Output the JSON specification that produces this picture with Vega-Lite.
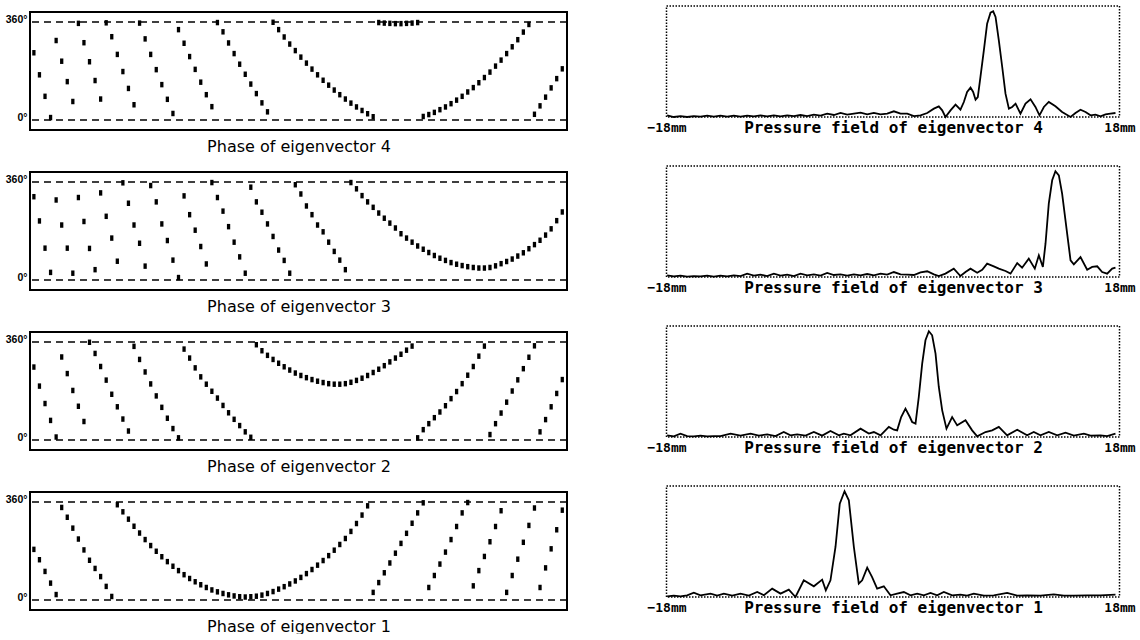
{
"$schema": "https://vega.github.io/schema/vega-lite/v6.json",
"background": "white",
"padding": {"left": 5, "top": 5, "right": 0, "bottom": 0},
"config": {"view": {"stroke": null}, "axis": {"grid": false}},
"datasets": {
"phase": [
{"ev":4,"i":0,"p":247},{"ev":4,"i":1,"p":166},{"ev":4,"i":2,"p":87},{"ev":4,"i":3,"p":9},{"ev":4,"i":4,"p":292},{"ev":4,"i":5,"p":216},{"ev":4,"i":6,"p":141},{"ev":4,"i":7,"p":68},{"ev":4,"i":8,"p":355},{"ev":4,"i":9,"p":284},
{"ev":4,"i":10,"p":214},{"ev":4,"i":11,"p":145},{"ev":4,"i":12,"p":77},{"ev":4,"i":13,"p":357},{"ev":4,"i":14,"p":306},{"ev":4,"i":15,"p":241},{"ev":4,"i":16,"p":178},{"ev":4,"i":17,"p":116},{"ev":4,"i":18,"p":56},{"ev":4,"i":19,"p":356},
{"ev":4,"i":20,"p":298},{"ev":4,"i":21,"p":241},{"ev":4,"i":22,"p":185},{"ev":4,"i":23,"p":130},{"ev":4,"i":24,"p":76},{"ev":4,"i":25,"p":24},{"ev":4,"i":26,"p":332},{"ev":4,"i":27,"p":282},{"ev":4,"i":28,"p":233},{"ev":4,"i":29,"p":186},
{"ev":4,"i":30,"p":139},{"ev":4,"i":31,"p":93},{"ev":4,"i":32,"p":49},{"ev":4,"i":33,"p":358},{"ev":4,"i":34,"p":324},{"ev":4,"i":35,"p":283},{"ev":4,"i":36,"p":244},{"ev":4,"i":37,"p":205},{"ev":4,"i":38,"p":168},{"ev":4,"i":39,"p":132},
{"ev":4,"i":40,"p":97},{"ev":4,"i":41,"p":63},{"ev":4,"i":42,"p":30},{"ev":4,"i":43,"p":359},{"ev":4,"i":44,"p":332},{"ev":4,"i":45,"p":305},{"ev":4,"i":46,"p":279},{"ev":4,"i":47,"p":255},{"ev":4,"i":48,"p":231},{"ev":4,"i":49,"p":209},
{"ev":4,"i":50,"p":187},{"ev":4,"i":51,"p":166},{"ev":4,"i":52,"p":146},{"ev":4,"i":53,"p":128},{"ev":4,"i":54,"p":110},{"ev":4,"i":55,"p":93},{"ev":4,"i":56,"p":77},{"ev":4,"i":57,"p":62},{"ev":4,"i":58,"p":48},{"ev":4,"i":59,"p":35},
{"ev":4,"i":60,"p":23},{"ev":4,"i":61,"p":12},{"ev":4,"i":62,"p":358},{"ev":4,"i":63,"p":356},{"ev":4,"i":64,"p":355},{"ev":4,"i":65,"p":354},{"ev":4,"i":66,"p":354},{"ev":4,"i":67,"p":355},{"ev":4,"i":68,"p":356},{"ev":4,"i":69,"p":358},
{"ev":4,"i":70,"p":13},{"ev":4,"i":71,"p":20},{"ev":4,"i":72,"p":28},{"ev":4,"i":73,"p":38},{"ev":4,"i":74,"p":48},{"ev":4,"i":75,"p":60},{"ev":4,"i":76,"p":73},{"ev":4,"i":77,"p":87},{"ev":4,"i":78,"p":103},{"ev":4,"i":79,"p":119},
{"ev":4,"i":80,"p":137},{"ev":4,"i":81,"p":156},{"ev":4,"i":82,"p":176},{"ev":4,"i":83,"p":198},{"ev":4,"i":84,"p":220},{"ev":4,"i":85,"p":244},{"ev":4,"i":86,"p":269},{"ev":4,"i":87,"p":295},{"ev":4,"i":88,"p":323},{"ev":4,"i":89,"p":351},
{"ev":4,"i":90,"p":21},{"ev":4,"i":91,"p":52},{"ev":4,"i":92,"p":84},{"ev":4,"i":93,"p":118},{"ev":4,"i":94,"p":152},{"ev":4,"i":95,"p":188},
{"ev":3,"i":0,"p":306},{"ev":3,"i":1,"p":217},{"ev":3,"i":2,"p":117},{"ev":3,"i":3,"p":28},{"ev":3,"i":4,"p":294},{"ev":3,"i":5,"p":202},{"ev":3,"i":6,"p":117},{"ev":3,"i":7,"p":25},{"ev":3,"i":8,"p":303},{"ev":3,"i":9,"p":215},
{"ev":3,"i":10,"p":116},{"ev":3,"i":11,"p":38},{"ev":3,"i":12,"p":320},{"ev":3,"i":13,"p":234},{"ev":3,"i":14,"p":154},{"ev":3,"i":15,"p":69},{"ev":3,"i":16,"p":357},{"ev":3,"i":17,"p":282},{"ev":3,"i":18,"p":202},{"ev":3,"i":19,"p":135},
{"ev":3,"i":20,"p":51},{"ev":3,"i":21,"p":347},{"ev":3,"i":22,"p":287},{"ev":3,"i":23,"p":206},{"ev":3,"i":24,"p":145},{"ev":3,"i":25,"p":73},{"ev":3,"i":26,"p":9},{"ev":3,"i":27,"p":309},{"ev":3,"i":28,"p":240},{"ev":3,"i":29,"p":183},
{"ev":3,"i":30,"p":123},{"ev":3,"i":31,"p":59},{"ev":3,"i":32,"p":358},{"ev":3,"i":33,"p":303},{"ev":3,"i":34,"p":253},{"ev":3,"i":35,"p":196},{"ev":3,"i":36,"p":139},{"ev":3,"i":37,"p":85},{"ev":3,"i":38,"p":25},{"ev":3,"i":39,"p":341},
{"ev":3,"i":40,"p":287},{"ev":3,"i":41,"p":249},{"ev":3,"i":42,"p":206},{"ev":3,"i":43,"p":160},{"ev":3,"i":44,"p":110},{"ev":3,"i":45,"p":72},{"ev":3,"i":46,"p":25},{"ev":3,"i":47,"p":350},{"ev":3,"i":48,"p":316},{"ev":3,"i":49,"p":272},
{"ev":3,"i":50,"p":240},{"ev":3,"i":51,"p":202},{"ev":3,"i":52,"p":177},{"ev":3,"i":53,"p":139},{"ev":3,"i":54,"p":105},{"ev":3,"i":55,"p":73},{"ev":3,"i":56,"p":38},{"ev":3,"i":57,"p":358},{"ev":3,"i":58,"p":335},{"ev":3,"i":59,"p":310},
{"ev":3,"i":60,"p":287},{"ev":3,"i":61,"p":267},{"ev":3,"i":62,"p":246},{"ev":3,"i":63,"p":227},{"ev":3,"i":64,"p":209},{"ev":3,"i":65,"p":191},{"ev":3,"i":66,"p":170},{"ev":3,"i":67,"p":154},{"ev":3,"i":68,"p":139},{"ev":3,"i":69,"p":125},
{"ev":3,"i":70,"p":113},{"ev":3,"i":71,"p":101},{"ev":3,"i":72,"p":90},{"ev":3,"i":73,"p":80},{"ev":3,"i":74,"p":72},{"ev":3,"i":75,"p":64},{"ev":3,"i":76,"p":58},{"ev":3,"i":77,"p":53},{"ev":3,"i":78,"p":49},{"ev":3,"i":79,"p":46},
{"ev":3,"i":80,"p":44},{"ev":3,"i":81,"p":44},{"ev":3,"i":82,"p":46},{"ev":3,"i":83,"p":52},{"ev":3,"i":84,"p":60},{"ev":3,"i":85,"p":68},{"ev":3,"i":86,"p":77},{"ev":3,"i":87,"p":88},{"ev":3,"i":88,"p":100},{"ev":3,"i":89,"p":115},
{"ev":3,"i":90,"p":130},{"ev":3,"i":91,"p":146},{"ev":3,"i":92,"p":165},{"ev":3,"i":93,"p":188},{"ev":3,"i":94,"p":218},{"ev":3,"i":95,"p":250},
{"ev":2,"i":0,"p":268},{"ev":2,"i":1,"p":198},{"ev":2,"i":2,"p":134},{"ev":2,"i":3,"p":72},{"ev":2,"i":4,"p":11},{"ev":2,"i":5,"p":305},{"ev":2,"i":6,"p":244},{"ev":2,"i":7,"p":182},{"ev":2,"i":8,"p":124},{"ev":2,"i":9,"p":68},
{"ev":2,"i":10,"p":359},{"ev":2,"i":11,"p":318},{"ev":2,"i":12,"p":270},{"ev":2,"i":13,"p":220},{"ev":2,"i":14,"p":168},{"ev":2,"i":15,"p":122},{"ev":2,"i":16,"p":77},{"ev":2,"i":17,"p":33},{"ev":2,"i":18,"p":344},{"ev":2,"i":19,"p":296},
{"ev":2,"i":20,"p":250},{"ev":2,"i":21,"p":206},{"ev":2,"i":22,"p":162},{"ev":2,"i":23,"p":120},{"ev":2,"i":24,"p":80},{"ev":2,"i":25,"p":42},{"ev":2,"i":26,"p":8},{"ev":2,"i":27,"p":334},{"ev":2,"i":28,"p":301},{"ev":2,"i":29,"p":265},
{"ev":2,"i":30,"p":232},{"ev":2,"i":31,"p":205},{"ev":2,"i":32,"p":179},{"ev":2,"i":33,"p":154},{"ev":2,"i":34,"p":127},{"ev":2,"i":35,"p":100},{"ev":2,"i":36,"p":76},{"ev":2,"i":37,"p":53},{"ev":2,"i":38,"p":30},{"ev":2,"i":39,"p":10},
{"ev":2,"i":40,"p":350},{"ev":2,"i":41,"p":328},{"ev":2,"i":42,"p":311},{"ev":2,"i":43,"p":296},{"ev":2,"i":44,"p":282},{"ev":2,"i":45,"p":269},{"ev":2,"i":46,"p":257},{"ev":2,"i":47,"p":246},{"ev":2,"i":48,"p":237},{"ev":2,"i":49,"p":229},
{"ev":2,"i":50,"p":222},{"ev":2,"i":51,"p":216},{"ev":2,"i":52,"p":211},{"ev":2,"i":53,"p":207},{"ev":2,"i":54,"p":205},{"ev":2,"i":55,"p":205},{"ev":2,"i":56,"p":207},{"ev":2,"i":57,"p":212},{"ev":2,"i":58,"p":219},{"ev":2,"i":59,"p":227},
{"ev":2,"i":60,"p":237},{"ev":2,"i":61,"p":248},{"ev":2,"i":62,"p":260},{"ev":2,"i":63,"p":273},{"ev":2,"i":64,"p":287},{"ev":2,"i":65,"p":301},{"ev":2,"i":66,"p":315},{"ev":2,"i":67,"p":330},{"ev":2,"i":68,"p":345},{"ev":2,"i":69,"p":8},
{"ev":2,"i":70,"p":38},{"ev":2,"i":71,"p":60},{"ev":2,"i":72,"p":82},{"ev":2,"i":73,"p":103},{"ev":2,"i":74,"p":126},{"ev":2,"i":75,"p":152},{"ev":2,"i":76,"p":178},{"ev":2,"i":77,"p":207},{"ev":2,"i":78,"p":238},{"ev":2,"i":79,"p":270},
{"ev":2,"i":80,"p":308},{"ev":2,"i":81,"p":345},{"ev":2,"i":82,"p":20},{"ev":2,"i":83,"p":60},{"ev":2,"i":84,"p":99},{"ev":2,"i":85,"p":139},{"ev":2,"i":86,"p":180},{"ev":2,"i":87,"p":221},{"ev":2,"i":88,"p":262},{"ev":2,"i":89,"p":304},
{"ev":2,"i":90,"p":346},{"ev":2,"i":91,"p":30},{"ev":2,"i":92,"p":75},{"ev":2,"i":93,"p":122},{"ev":2,"i":94,"p":171},{"ev":2,"i":95,"p":222},
{"ev":1,"i":0,"p":186},{"ev":1,"i":1,"p":148},{"ev":1,"i":2,"p":105},{"ev":1,"i":3,"p":62},{"ev":1,"i":4,"p":20},{"ev":1,"i":5,"p":340},{"ev":1,"i":6,"p":304},{"ev":1,"i":7,"p":264},{"ev":1,"i":8,"p":224},{"ev":1,"i":9,"p":184},
{"ev":1,"i":10,"p":146},{"ev":1,"i":11,"p":116},{"ev":1,"i":12,"p":86},{"ev":1,"i":13,"p":50},{"ev":1,"i":14,"p":13},{"ev":1,"i":15,"p":350},{"ev":1,"i":16,"p":324},{"ev":1,"i":17,"p":297},{"ev":1,"i":18,"p":271},{"ev":1,"i":19,"p":246},
{"ev":1,"i":20,"p":222},{"ev":1,"i":21,"p":200},{"ev":1,"i":22,"p":179},{"ev":1,"i":23,"p":159},{"ev":1,"i":24,"p":141},{"ev":1,"i":25,"p":124},{"ev":1,"i":26,"p":108},{"ev":1,"i":27,"p":93},{"ev":1,"i":28,"p":79},{"ev":1,"i":29,"p":67},
{"ev":1,"i":30,"p":56},{"ev":1,"i":31,"p":46},{"ev":1,"i":32,"p":37},{"ev":1,"i":33,"p":30},{"ev":1,"i":34,"p":24},{"ev":1,"i":35,"p":19},{"ev":1,"i":36,"p":15},{"ev":1,"i":37,"p":12},{"ev":1,"i":38,"p":11},{"ev":1,"i":39,"p":12},
{"ev":1,"i":40,"p":14},{"ev":1,"i":41,"p":18},{"ev":1,"i":42,"p":24},{"ev":1,"i":43,"p":31},{"ev":1,"i":44,"p":40},{"ev":1,"i":45,"p":49},{"ev":1,"i":46,"p":59},{"ev":1,"i":47,"p":70},{"ev":1,"i":48,"p":83},{"ev":1,"i":49,"p":97},
{"ev":1,"i":50,"p":112},{"ev":1,"i":51,"p":128},{"ev":1,"i":52,"p":145},{"ev":1,"i":53,"p":163},{"ev":1,"i":54,"p":183},{"ev":1,"i":55,"p":204},{"ev":1,"i":56,"p":226},{"ev":1,"i":57,"p":252},{"ev":1,"i":58,"p":281},{"ev":1,"i":59,"p":312},
{"ev":1,"i":60,"p":346},{"ev":1,"i":61,"p":28},{"ev":1,"i":62,"p":64},{"ev":1,"i":63,"p":100},{"ev":1,"i":64,"p":136},{"ev":1,"i":65,"p":172},{"ev":1,"i":66,"p":208},{"ev":1,"i":67,"p":245},{"ev":1,"i":68,"p":282},{"ev":1,"i":69,"p":320},
{"ev":1,"i":70,"p":357},{"ev":1,"i":71,"p":46},{"ev":1,"i":72,"p":90},{"ev":1,"i":73,"p":132},{"ev":1,"i":74,"p":176},{"ev":1,"i":75,"p":222},{"ev":1,"i":76,"p":270},{"ev":1,"i":77,"p":320},{"ev":1,"i":78,"p":358},{"ev":1,"i":79,"p":52},
{"ev":1,"i":80,"p":108},{"ev":1,"i":81,"p":160},{"ev":1,"i":82,"p":214},{"ev":1,"i":83,"p":270},{"ev":1,"i":84,"p":328},{"ev":1,"i":85,"p":28},{"ev":1,"i":86,"p":90},{"ev":1,"i":87,"p":150},{"ev":1,"i":88,"p":212},{"ev":1,"i":89,"p":274},
{"ev":1,"i":90,"p":338},{"ev":1,"i":91,"p":46},{"ev":1,"i":92,"p":118},{"ev":1,"i":93,"p":188},{"ev":1,"i":94,"p":258},{"ev":1,"i":95,"p":330}
],
"field": [
{"ev":4,"mm":-17.95,"a":0.016},{"ev":4,"mm":-17.42,"a":0},{"ev":4,"mm":-16.89,"a":0.009},{"ev":4,"mm":-16.36,"a":0},{"ev":4,"mm":-15.83,"a":0.009},{"ev":4,"mm":-15.3,"a":0.003},{"ev":4,"mm":-14.77,"a":0.013},{"ev":4,"mm":-14.24,"a":0.003},{"ev":4,"mm":-13.71,"a":0.013},{"ev":4,"mm":-13.18,"a":0.003},
{"ev":4,"mm":-12.65,"a":0.013},{"ev":4,"mm":-12.12,"a":0.003},{"ev":4,"mm":-11.59,"a":0.013},{"ev":4,"mm":-11.06,"a":0.006},{"ev":4,"mm":-10.53,"a":0.016},{"ev":4,"mm":-10.0,"a":0.006},{"ev":4,"mm":-9.47,"a":0.016},{"ev":4,"mm":-8.94,"a":0.006},{"ev":4,"mm":-8.41,"a":0.016},{"ev":4,"mm":-7.88,"a":0.009},
{"ev":4,"mm":-7.35,"a":0.019},{"ev":4,"mm":-6.82,"a":0.009},{"ev":4,"mm":-6.29,"a":0.022},{"ev":4,"mm":-5.76,"a":0.013},{"ev":4,"mm":-5.23,"a":0.032},{"ev":4,"mm":-4.7,"a":0.019},{"ev":4,"mm":-4.17,"a":0.038},{"ev":4,"mm":-3.64,"a":0.022},{"ev":4,"mm":-3.11,"a":0.032},{"ev":4,"mm":-2.58,"a":0.041},
{"ev":4,"mm":-2.05,"a":0.025},{"ev":4,"mm":-1.52,"a":0.038},{"ev":4,"mm":-0.99,"a":0.025},{"ev":4,"mm":-0.46,"a":0.032},{"ev":4,"mm":0.07,"a":0.054},{"ev":4,"mm":0.6,"a":0.032},{"ev":4,"mm":1.13,"a":0.032},{"ev":4,"mm":1.66,"a":0.009},{"ev":4,"mm":2.19,"a":0.016},{"ev":4,"mm":2.72,"a":0.038},
{"ev":4,"mm":3.25,"a":0.079},{"ev":4,"mm":3.64,"a":0.101},{"ev":4,"mm":3.91,"a":0.063},{"ev":4,"mm":4.17,"a":0},{"ev":4,"mm":4.57,"a":0.063},{"ev":4,"mm":4.97,"a":0.117},{"ev":4,"mm":5.36,"a":0.069},{"ev":4,"mm":5.63,"a":0.142},{"ev":4,"mm":5.89,"a":0.237},{"ev":4,"mm":6.16,"a":0.278},
{"ev":4,"mm":6.37,"a":0.237},{"ev":4,"mm":6.56,"a":0.164},{"ev":4,"mm":6.74,"a":0.189},{"ev":4,"mm":6.95,"a":0.379},{"ev":4,"mm":7.22,"a":0.631},{"ev":4,"mm":7.48,"a":0.883},{"ev":4,"mm":7.75,"a":0.987},{"ev":4,"mm":7.96,"a":1.0},{"ev":4,"mm":8.15,"a":0.946},{"ev":4,"mm":8.41,"a":0.726},
{"ev":4,"mm":8.68,"a":0.473},{"ev":4,"mm":8.94,"a":0.221},{"ev":4,"mm":9.21,"a":0.079},{"ev":4,"mm":9.47,"a":0.095},{"ev":4,"mm":9.74,"a":0.126},{"ev":4,"mm":10.13,"a":0.032},{"ev":4,"mm":10.53,"a":0.126},{"ev":4,"mm":10.93,"a":0.167},{"ev":4,"mm":11.32,"a":0.095},{"ev":4,"mm":11.64,"a":0.016},
{"ev":4,"mm":11.99,"a":0.095},{"ev":4,"mm":12.38,"a":0.142},{"ev":4,"mm":12.91,"a":0.101},{"ev":4,"mm":13.44,"a":0.047},{"ev":4,"mm":14.11,"a":0},{"ev":4,"mm":14.5,"a":0.038},{"ev":4,"mm":14.9,"a":0.069},{"ev":4,"mm":15.3,"a":0.047},{"ev":4,"mm":15.7,"a":0.016},{"ev":4,"mm":16.09,"a":0.022},
{"ev":4,"mm":16.49,"a":0.006},{"ev":4,"mm":16.89,"a":0.025},{"ev":4,"mm":17.28,"a":0.032},{"ev":4,"mm":17.68,"a":0.038},
{"ev":3,"mm":-17.95,"a":0.016},{"ev":3,"mm":-17.42,"a":0.006},{"ev":3,"mm":-16.89,"a":0.013},{"ev":3,"mm":-16.36,"a":0.003},{"ev":3,"mm":-15.83,"a":0.009},{"ev":3,"mm":-15.3,"a":0.006},{"ev":3,"mm":-14.77,"a":0.013},{"ev":3,"mm":-14.24,"a":0.003},{"ev":3,"mm":-13.71,"a":0.013},{"ev":3,"mm":-13.18,"a":0.006},
{"ev":3,"mm":-12.65,"a":0.016},{"ev":3,"mm":-12.12,"a":0.009},{"ev":3,"mm":-11.59,"a":0.032},{"ev":3,"mm":-11.06,"a":0.013},{"ev":3,"mm":-10.53,"a":0.022},{"ev":3,"mm":-10.0,"a":0.009},{"ev":3,"mm":-9.47,"a":0.032},{"ev":3,"mm":-8.94,"a":0.013},{"ev":3,"mm":-8.41,"a":0.022},{"ev":3,"mm":-7.88,"a":0.009},
{"ev":3,"mm":-7.35,"a":0.032},{"ev":3,"mm":-6.82,"a":0.016},{"ev":3,"mm":-6.29,"a":0.025},{"ev":3,"mm":-5.76,"a":0.013},{"ev":3,"mm":-5.23,"a":0.038},{"ev":3,"mm":-4.7,"a":0.019},{"ev":3,"mm":-4.17,"a":0.025},{"ev":3,"mm":-3.64,"a":0.013},{"ev":3,"mm":-3.11,"a":0.025},{"ev":3,"mm":-2.58,"a":0.016},
{"ev":3,"mm":-2.05,"a":0.028},{"ev":3,"mm":-1.52,"a":0.016},{"ev":3,"mm":-0.99,"a":0.032},{"ev":3,"mm":-0.46,"a":0.022},{"ev":3,"mm":0.07,"a":0.047},{"ev":3,"mm":0.6,"a":0.025},{"ev":3,"mm":1.13,"a":0.022},{"ev":3,"mm":1.66,"a":0.019},{"ev":3,"mm":2.19,"a":0.044},{"ev":3,"mm":2.72,"a":0.054},
{"ev":3,"mm":3.25,"a":0.025},{"ev":3,"mm":3.64,"a":0.009},{"ev":3,"mm":4.17,"a":0.032},{"ev":3,"mm":4.83,"a":0.079},{"ev":3,"mm":5.36,"a":0.009},{"ev":3,"mm":5.76,"a":0.047},{"ev":3,"mm":6.16,"a":0.079},{"ev":3,"mm":6.69,"a":0.041},{"ev":3,"mm":7.09,"a":0.069},{"ev":3,"mm":7.48,"a":0.126},
{"ev":3,"mm":8.01,"a":0.101},{"ev":3,"mm":8.41,"a":0.079},{"ev":3,"mm":8.94,"a":0.057},{"ev":3,"mm":9.34,"a":0.032},{"ev":3,"mm":9.87,"a":0.132},{"ev":3,"mm":10.26,"a":0.088},{"ev":3,"mm":10.79,"a":0.174},{"ev":3,"mm":11.27,"a":0.079},{"ev":3,"mm":11.59,"a":0.205},{"ev":3,"mm":11.91,"a":0.095},
{"ev":3,"mm":12.12,"a":0.315},{"ev":3,"mm":12.38,"a":0.694},{"ev":3,"mm":12.65,"a":0.915},{"ev":3,"mm":12.91,"a":1.0},{"ev":3,"mm":13.18,"a":0.962},{"ev":3,"mm":13.44,"a":0.789},{"ev":3,"mm":13.84,"a":0.41},{"ev":3,"mm":14.11,"a":0.158},{"ev":3,"mm":14.37,"a":0.12},{"ev":3,"mm":14.9,"a":0.189},
{"ev":3,"mm":15.43,"a":0.069},{"ev":3,"mm":15.83,"a":0.095},{"ev":3,"mm":16.23,"a":0.101},{"ev":3,"mm":16.62,"a":0.047},{"ev":3,"mm":17.02,"a":0.032},{"ev":3,"mm":17.42,"a":0.079},{"ev":3,"mm":17.68,"a":0.088},
{"ev":2,"mm":-17.95,"a":0.016},{"ev":2,"mm":-17.42,"a":0.006},{"ev":2,"mm":-16.89,"a":0.032},{"ev":2,"mm":-16.36,"a":0.009},{"ev":2,"mm":-15.83,"a":0.006},{"ev":2,"mm":-15.3,"a":0.013},{"ev":2,"mm":-14.77,"a":0.006},{"ev":2,"mm":-14.24,"a":0.009},{"ev":2,"mm":-13.71,"a":0.009},{"ev":2,"mm":-12.91,"a":0.032},
{"ev":2,"mm":-12.12,"a":0.013},{"ev":2,"mm":-11.32,"a":0.032},{"ev":2,"mm":-10.66,"a":0.013},{"ev":2,"mm":-10.0,"a":0.025},{"ev":2,"mm":-9.34,"a":0.009},{"ev":2,"mm":-8.68,"a":0.047},{"ev":2,"mm":-8.15,"a":0.016},{"ev":2,"mm":-7.62,"a":0.025},{"ev":2,"mm":-6.95,"a":0.013},{"ev":2,"mm":-6.29,"a":0.047},
{"ev":2,"mm":-5.63,"a":0.013},{"ev":2,"mm":-4.97,"a":0.057},{"ev":2,"mm":-4.3,"a":0.016},{"ev":2,"mm":-3.91,"a":0.032},{"ev":2,"mm":-3.38,"a":0.016},{"ev":2,"mm":-2.58,"a":0.079},{"ev":2,"mm":-1.92,"a":0.032},{"ev":2,"mm":-1.52,"a":0.047},{"ev":2,"mm":-0.99,"a":0.016},{"ev":2,"mm":-0.33,"a":0.095},
{"ev":2,"mm":0.07,"a":0.069},{"ev":2,"mm":0.33,"a":0.063},{"ev":2,"mm":0.65,"a":0.189},{"ev":2,"mm":0.99,"a":0.268},{"ev":2,"mm":1.34,"a":0.189},{"ev":2,"mm":1.52,"a":0.142},{"ev":2,"mm":1.79,"a":0.126},{"ev":2,"mm":2.05,"a":0.379},{"ev":2,"mm":2.32,"a":0.694},{"ev":2,"mm":2.58,"a":0.915},
{"ev":2,"mm":2.85,"a":1.0},{"ev":2,"mm":3.11,"a":0.962},{"ev":2,"mm":3.38,"a":0.789},{"ev":2,"mm":3.64,"a":0.473},{"ev":2,"mm":3.91,"a":0.252},{"ev":2,"mm":4.25,"a":0.079},{"ev":2,"mm":4.7,"a":0.189},{"ev":2,"mm":5.1,"a":0.11},{"ev":2,"mm":5.76,"a":0.158},{"ev":2,"mm":6.29,"a":0.063},
{"ev":2,"mm":6.69,"a":0.006},{"ev":2,"mm":7.35,"a":0.047},{"ev":2,"mm":7.88,"a":0.063},{"ev":2,"mm":8.41,"a":0.095},{"ev":2,"mm":9.07,"a":0.016},{"ev":2,"mm":9.87,"a":0.069},{"ev":2,"mm":10.66,"a":0.016},{"ev":2,"mm":11.19,"a":0.047},{"ev":2,"mm":11.72,"a":0.016},{"ev":2,"mm":12.38,"a":0.047},
{"ev":2,"mm":13.05,"a":0.016},{"ev":2,"mm":13.71,"a":0.041},{"ev":2,"mm":14.37,"a":0.013},{"ev":2,"mm":15.17,"a":0.032},{"ev":2,"mm":15.7,"a":0.013},{"ev":2,"mm":16.49,"a":0.016},{"ev":2,"mm":17.02,"a":0.009},{"ev":2,"mm":17.68,"a":0.032},
{"ev":1,"mm":-17.95,"a":0.006},{"ev":1,"mm":-17.42,"a":0.013},{"ev":1,"mm":-16.89,"a":0.006},{"ev":1,"mm":-16.36,"a":0.016},{"ev":1,"mm":-15.83,"a":0.041},{"ev":1,"mm":-15.3,"a":0.016},{"ev":1,"mm":-14.5,"a":0.032},{"ev":1,"mm":-13.97,"a":0.013},{"ev":1,"mm":-13.44,"a":0.032},{"ev":1,"mm":-12.78,"a":0.013},
{"ev":1,"mm":-12.12,"a":0.032},{"ev":1,"mm":-11.46,"a":0.013},{"ev":1,"mm":-10.79,"a":0.047},{"ev":1,"mm":-10.26,"a":0.016},{"ev":1,"mm":-9.6,"a":0.079},{"ev":1,"mm":-8.94,"a":0.032},{"ev":1,"mm":-8.28,"a":0.069},{"ev":1,"mm":-7.75,"a":0},{"ev":1,"mm":-7.09,"a":0.158},{"ev":1,"mm":-6.29,"a":0.101},
{"ev":1,"mm":-5.63,"a":0.164},{"ev":1,"mm":-5.34,"a":0.063},{"ev":1,"mm":-4.97,"a":0.158},{"ev":1,"mm":-4.57,"a":0.473},{"ev":1,"mm":-4.23,"a":0.883},{"ev":1,"mm":-3.85,"a":1.0},{"ev":1,"mm":-3.51,"a":0.915},{"ev":1,"mm":-3.11,"a":0.473},{"ev":1,"mm":-2.72,"a":0.126},{"ev":1,"mm":-2.45,"a":0.158},
{"ev":1,"mm":-2.05,"a":0.278},{"ev":1,"mm":-1.66,"a":0.189},{"ev":1,"mm":-1.26,"a":0.079},{"ev":1,"mm":-0.73,"a":0.101},{"ev":1,"mm":-0.2,"a":0.016},{"ev":1,"mm":0.33,"a":0.032},{"ev":1,"mm":0.86,"a":0.047},{"ev":1,"mm":1.39,"a":0.016},{"ev":1,"mm":1.92,"a":0.032},{"ev":1,"mm":2.45,"a":0.016},
{"ev":1,"mm":2.98,"a":0.038},{"ev":1,"mm":3.51,"a":0.016},{"ev":1,"mm":4.04,"a":0.047},{"ev":1,"mm":4.7,"a":0.016},{"ev":1,"mm":5.36,"a":0.022},{"ev":1,"mm":5.89,"a":0.013},{"ev":1,"mm":6.42,"a":0.032},{"ev":1,"mm":7.22,"a":0.013},{"ev":1,"mm":8.01,"a":0.016},{"ev":1,"mm":9.07,"a":0.038},
{"ev":1,"mm":9.87,"a":0.013},{"ev":1,"mm":10.66,"a":0.016},{"ev":1,"mm":11.72,"a":0.013},{"ev":1,"mm":12.78,"a":0.025},{"ev":1,"mm":13.58,"a":0.013},{"ev":1,"mm":14.37,"a":0.013},{"ev":1,"mm":15.43,"a":0.016},{"ev":1,"mm":16.49,"a":0.016},{"ev":1,"mm":17.68,"a":0.022}
]
},
"columns": 2,
"spacing": {"row": 36, "column": 99.5},
"bounds": "flush",
"concat": [
{"width": 537, "height": 124, "layer": [
 {"data": {"values": [{}]}, "mark": {"type": "rect", "fillOpacity": 0, "stroke": "black", "strokeWidth": 2},
  "encoding": {"x": {"datum": -0.7, "type": "quantitative", "scale": {"domain": [-0.7, 95.85], "nice": false, "zero": false}, "axis": {"title": "Phase of eigenvector 4", "labels": false, "ticks": false, "domain": false, "titleY": 21, "titleBaseline": "alphabetic", "titleFont": "DejaVu Sans", "titleFontSize": 16, "titleFontWeight": "normal", "titleColor": "black"}}, "x2": {"datum": 95.85},
   "y": {"datum": -36.7, "type": "quantitative", "scale": {"domain": [-36.7, 418.8], "nice": false, "zero": false}, "axis": {"values": [0, 360], "labelExpr": "datum.value == 360 ? '360°' : '0°'", "domain": false, "ticks": false, "labelPadding": 3, "labelFont": "Liberation Sans", "labelFontWeight": "bold", "labelFontSize": 10.5, "labelColor": "black", "labelBaseline": "alphabetic", "title": null}}, "y2": {"datum": 396.7}}},
 {"data": {"values": [{"p": 0}, {"p": 360}]}, "mark": {"type": "rule", "strokeDash": [7, 5], "strokeWidth": 1.5, "color": "black"},
  "encoding": {"y": {"field": "p", "type": "quantitative", "axis": {"values": [0, 360], "labelExpr": "datum.value == 360 ? '360°' : '0°'", "domain": false, "ticks": false, "labelPadding": 3, "labelFont": "Liberation Sans", "labelFontWeight": "bold", "labelFontSize": 10.5, "labelColor": "black", "labelBaseline": "alphabetic", "title": null}}}},
 {"data": {"name": "phase"}, "transform": [{"filter": "datum.ev == 4"}],
  "mark": {"type": "point", "shape": "M-0.6,-1H0.6V1H-0.6Z", "filled": true, "color": "black", "size": 30, "opacity": 1},
  "encoding": {"x": {"field": "i", "type": "quantitative", "axis": {"title": "Phase of eigenvector 4", "labels": false, "ticks": false, "domain": false, "titleY": 21, "titleBaseline": "alphabetic", "titleFont": "DejaVu Sans", "titleFontSize": 16, "titleFontWeight": "normal", "titleColor": "black"}},
   "y": {"field": "p", "type": "quantitative", "axis": {"values": [0, 360], "labelExpr": "datum.value == 360 ? '360°' : '0°'", "domain": false, "ticks": false, "labelPadding": 3, "labelFont": "Liberation Sans", "labelFontWeight": "bold", "labelFontSize": 10.5, "labelColor": "black", "labelBaseline": "alphabetic", "title": null}}}}
]},
{"width": 453, "height": 111, "view": {"stroke": "black", "strokeWidth": 1.5, "strokeDash": [1.5, 1.5]},
 "data": {"name": "field"}, "transform": [{"filter": "datum.ev == 4"}],
 "mark": {"type": "line", "color": "black", "strokeWidth": 1.8},
 "encoding": {"x": {"field": "mm", "type": "quantitative", "scale": {"domain": [-18, 18], "nice": false, "zero": false},
   "axis": {"values": [-18, 18], "labelExpr": "datum.value < 0 ? '−18mm' : '18mm'", "labelFlush": false, "domain": false, "ticks": false, "tickSize": 0, "labelPadding": 10, "labelBaseline": "middle", "labelFont": "DejaVu Sans Mono", "labelFontWeight": "bold", "labelFontSize": 13, "labelColor": "black", "labelOverlap": false, "title": "Pressure field of eigenvector 4", "titleY": 10.5, "titleBaseline": "middle", "titleFont": "DejaVu Sans Mono", "titleFontWeight": "bold", "titleFontSize": 16, "titleColor": "black"}},
  "y": {"field": "a", "type": "quantitative", "scale": {"domain": [0, 1.05], "nice": false}, "axis": null}}},
{"width": 537, "height": 124, "layer": [
 {"data": {"values": [{}]}, "mark": {"type": "rect", "fillOpacity": 0, "stroke": "black", "strokeWidth": 2},
  "encoding": {"x": {"datum": -0.7, "type": "quantitative", "scale": {"domain": [-0.7, 95.85], "nice": false, "zero": false}, "axis": {"title": "Phase of eigenvector 3", "labels": false, "ticks": false, "domain": false, "titleY": 21, "titleBaseline": "alphabetic", "titleFont": "DejaVu Sans", "titleFontSize": 16, "titleFontWeight": "normal", "titleColor": "black"}}, "x2": {"datum": 95.85},
   "y": {"datum": -36.7, "type": "quantitative", "scale": {"domain": [-36.7, 418.8], "nice": false, "zero": false}, "axis": {"values": [0, 360], "labelExpr": "datum.value == 360 ? '360°' : '0°'", "domain": false, "ticks": false, "labelPadding": 3, "labelFont": "Liberation Sans", "labelFontWeight": "bold", "labelFontSize": 10.5, "labelColor": "black", "labelBaseline": "alphabetic", "title": null}}, "y2": {"datum": 396.7}}},
 {"data": {"values": [{"p": 0}, {"p": 360}]}, "mark": {"type": "rule", "strokeDash": [7, 5], "strokeWidth": 1.5, "color": "black"},
  "encoding": {"y": {"field": "p", "type": "quantitative", "axis": {"values": [0, 360], "labelExpr": "datum.value == 360 ? '360°' : '0°'", "domain": false, "ticks": false, "labelPadding": 3, "labelFont": "Liberation Sans", "labelFontWeight": "bold", "labelFontSize": 10.5, "labelColor": "black", "labelBaseline": "alphabetic", "title": null}}}},
 {"data": {"name": "phase"}, "transform": [{"filter": "datum.ev == 3"}],
  "mark": {"type": "point", "shape": "M-0.6,-1H0.6V1H-0.6Z", "filled": true, "color": "black", "size": 30, "opacity": 1},
  "encoding": {"x": {"field": "i", "type": "quantitative", "axis": {"title": "Phase of eigenvector 3", "labels": false, "ticks": false, "domain": false, "titleY": 21, "titleBaseline": "alphabetic", "titleFont": "DejaVu Sans", "titleFontSize": 16, "titleFontWeight": "normal", "titleColor": "black"}},
   "y": {"field": "p", "type": "quantitative", "axis": {"values": [0, 360], "labelExpr": "datum.value == 360 ? '360°' : '0°'", "domain": false, "ticks": false, "labelPadding": 3, "labelFont": "Liberation Sans", "labelFontWeight": "bold", "labelFontSize": 10.5, "labelColor": "black", "labelBaseline": "alphabetic", "title": null}}}}
]},
{"width": 453, "height": 111, "view": {"stroke": "black", "strokeWidth": 1.5, "strokeDash": [1.5, 1.5]},
 "data": {"name": "field"}, "transform": [{"filter": "datum.ev == 3"}],
 "mark": {"type": "line", "color": "black", "strokeWidth": 1.8},
 "encoding": {"x": {"field": "mm", "type": "quantitative", "scale": {"domain": [-18, 18], "nice": false, "zero": false},
   "axis": {"values": [-18, 18], "labelExpr": "datum.value < 0 ? '−18mm' : '18mm'", "labelFlush": false, "domain": false, "ticks": false, "tickSize": 0, "labelPadding": 10, "labelBaseline": "middle", "labelFont": "DejaVu Sans Mono", "labelFontWeight": "bold", "labelFontSize": 13, "labelColor": "black", "labelOverlap": false, "title": "Pressure field of eigenvector 3", "titleY": 10.5, "titleBaseline": "middle", "titleFont": "DejaVu Sans Mono", "titleFontWeight": "bold", "titleFontSize": 16, "titleColor": "black"}},
  "y": {"field": "a", "type": "quantitative", "scale": {"domain": [0, 1.05], "nice": false}, "axis": null}}},
{"width": 537, "height": 124, "layer": [
 {"data": {"values": [{}]}, "mark": {"type": "rect", "fillOpacity": 0, "stroke": "black", "strokeWidth": 2},
  "encoding": {"x": {"datum": -0.7, "type": "quantitative", "scale": {"domain": [-0.7, 95.85], "nice": false, "zero": false}, "axis": {"title": "Phase of eigenvector 2", "labels": false, "ticks": false, "domain": false, "titleY": 21, "titleBaseline": "alphabetic", "titleFont": "DejaVu Sans", "titleFontSize": 16, "titleFontWeight": "normal", "titleColor": "black"}}, "x2": {"datum": 95.85},
   "y": {"datum": -36.7, "type": "quantitative", "scale": {"domain": [-36.7, 418.8], "nice": false, "zero": false}, "axis": {"values": [0, 360], "labelExpr": "datum.value == 360 ? '360°' : '0°'", "domain": false, "ticks": false, "labelPadding": 3, "labelFont": "Liberation Sans", "labelFontWeight": "bold", "labelFontSize": 10.5, "labelColor": "black", "labelBaseline": "alphabetic", "title": null}}, "y2": {"datum": 396.7}}},
 {"data": {"values": [{"p": 0}, {"p": 360}]}, "mark": {"type": "rule", "strokeDash": [7, 5], "strokeWidth": 1.5, "color": "black"},
  "encoding": {"y": {"field": "p", "type": "quantitative", "axis": {"values": [0, 360], "labelExpr": "datum.value == 360 ? '360°' : '0°'", "domain": false, "ticks": false, "labelPadding": 3, "labelFont": "Liberation Sans", "labelFontWeight": "bold", "labelFontSize": 10.5, "labelColor": "black", "labelBaseline": "alphabetic", "title": null}}}},
 {"data": {"name": "phase"}, "transform": [{"filter": "datum.ev == 2"}],
  "mark": {"type": "point", "shape": "M-0.6,-1H0.6V1H-0.6Z", "filled": true, "color": "black", "size": 30, "opacity": 1},
  "encoding": {"x": {"field": "i", "type": "quantitative", "axis": {"title": "Phase of eigenvector 2", "labels": false, "ticks": false, "domain": false, "titleY": 21, "titleBaseline": "alphabetic", "titleFont": "DejaVu Sans", "titleFontSize": 16, "titleFontWeight": "normal", "titleColor": "black"}},
   "y": {"field": "p", "type": "quantitative", "axis": {"values": [0, 360], "labelExpr": "datum.value == 360 ? '360°' : '0°'", "domain": false, "ticks": false, "labelPadding": 3, "labelFont": "Liberation Sans", "labelFontWeight": "bold", "labelFontSize": 10.5, "labelColor": "black", "labelBaseline": "alphabetic", "title": null}}}}
]},
{"width": 453, "height": 111, "view": {"stroke": "black", "strokeWidth": 1.5, "strokeDash": [1.5, 1.5]},
 "data": {"name": "field"}, "transform": [{"filter": "datum.ev == 2"}],
 "mark": {"type": "line", "color": "black", "strokeWidth": 1.8},
 "encoding": {"x": {"field": "mm", "type": "quantitative", "scale": {"domain": [-18, 18], "nice": false, "zero": false},
   "axis": {"values": [-18, 18], "labelExpr": "datum.value < 0 ? '−18mm' : '18mm'", "labelFlush": false, "domain": false, "ticks": false, "tickSize": 0, "labelPadding": 10, "labelBaseline": "middle", "labelFont": "DejaVu Sans Mono", "labelFontWeight": "bold", "labelFontSize": 13, "labelColor": "black", "labelOverlap": false, "title": "Pressure field of eigenvector 2", "titleY": 10.5, "titleBaseline": "middle", "titleFont": "DejaVu Sans Mono", "titleFontWeight": "bold", "titleFontSize": 16, "titleColor": "black"}},
  "y": {"field": "a", "type": "quantitative", "scale": {"domain": [0, 1.05], "nice": false}, "axis": null}}},
{"width": 537, "height": 124, "layer": [
 {"data": {"values": [{}]}, "mark": {"type": "rect", "fillOpacity": 0, "stroke": "black", "strokeWidth": 2},
  "encoding": {"x": {"datum": -0.7, "type": "quantitative", "scale": {"domain": [-0.7, 95.85], "nice": false, "zero": false}, "axis": {"title": "Phase of eigenvector 1", "labels": false, "ticks": false, "domain": false, "titleY": 21, "titleBaseline": "alphabetic", "titleFont": "DejaVu Sans", "titleFontSize": 16, "titleFontWeight": "normal", "titleColor": "black"}}, "x2": {"datum": 95.85},
   "y": {"datum": -36.7, "type": "quantitative", "scale": {"domain": [-36.7, 418.8], "nice": false, "zero": false}, "axis": {"values": [0, 360], "labelExpr": "datum.value == 360 ? '360°' : '0°'", "domain": false, "ticks": false, "labelPadding": 3, "labelFont": "Liberation Sans", "labelFontWeight": "bold", "labelFontSize": 10.5, "labelColor": "black", "labelBaseline": "alphabetic", "title": null}}, "y2": {"datum": 396.7}}},
 {"data": {"values": [{"p": 0}, {"p": 360}]}, "mark": {"type": "rule", "strokeDash": [7, 5], "strokeWidth": 1.5, "color": "black"},
  "encoding": {"y": {"field": "p", "type": "quantitative", "axis": {"values": [0, 360], "labelExpr": "datum.value == 360 ? '360°' : '0°'", "domain": false, "ticks": false, "labelPadding": 3, "labelFont": "Liberation Sans", "labelFontWeight": "bold", "labelFontSize": 10.5, "labelColor": "black", "labelBaseline": "alphabetic", "title": null}}}},
 {"data": {"name": "phase"}, "transform": [{"filter": "datum.ev == 1"}],
  "mark": {"type": "point", "shape": "M-0.6,-1H0.6V1H-0.6Z", "filled": true, "color": "black", "size": 30, "opacity": 1},
  "encoding": {"x": {"field": "i", "type": "quantitative", "axis": {"title": "Phase of eigenvector 1", "labels": false, "ticks": false, "domain": false, "titleY": 21, "titleBaseline": "alphabetic", "titleFont": "DejaVu Sans", "titleFontSize": 16, "titleFontWeight": "normal", "titleColor": "black"}},
   "y": {"field": "p", "type": "quantitative", "axis": {"values": [0, 360], "labelExpr": "datum.value == 360 ? '360°' : '0°'", "domain": false, "ticks": false, "labelPadding": 3, "labelFont": "Liberation Sans", "labelFontWeight": "bold", "labelFontSize": 10.5, "labelColor": "black", "labelBaseline": "alphabetic", "title": null}}}}
]},
{"width": 453, "height": 111, "view": {"stroke": "black", "strokeWidth": 1.5, "strokeDash": [1.5, 1.5]},
 "data": {"name": "field"}, "transform": [{"filter": "datum.ev == 1"}],
 "mark": {"type": "line", "color": "black", "strokeWidth": 1.8},
 "encoding": {"x": {"field": "mm", "type": "quantitative", "scale": {"domain": [-18, 18], "nice": false, "zero": false},
   "axis": {"values": [-18, 18], "labelExpr": "datum.value < 0 ? '−18mm' : '18mm'", "labelFlush": false, "domain": false, "ticks": false, "tickSize": 0, "labelPadding": 10, "labelBaseline": "middle", "labelFont": "DejaVu Sans Mono", "labelFontWeight": "bold", "labelFontSize": 13, "labelColor": "black", "labelOverlap": false, "title": "Pressure field of eigenvector 1", "titleY": 10.5, "titleBaseline": "middle", "titleFont": "DejaVu Sans Mono", "titleFontWeight": "bold", "titleFontSize": 16, "titleColor": "black"}},
  "y": {"field": "a", "type": "quantitative", "scale": {"domain": [0, 1.05], "nice": false}, "axis": null}}}
]
}
